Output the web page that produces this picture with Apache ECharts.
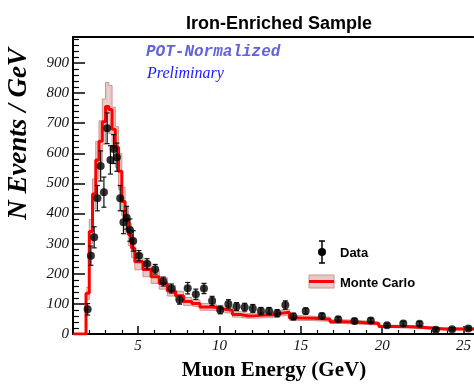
<!DOCTYPE html>
<html><head><meta charset="utf-8">
<script src="https://cdn.jsdelivr.net/npm/echarts@6/dist/echarts.min.js"></script>
<style>html,body{margin:0;padding:0;background:#fff}#c{width:474px;height:385px}</style>
</head><body><div id="c"></div>
<script>
// ---- data ----
const binEdges = [1.8,2.0,2.2,2.4,2.6,2.8,3.0,3.2,3.4,3.6,3.8,4.0,4.2,4.4,4.6,4.8,
  5.3,5.8,6.3,6.8,7.3,7.8,8.3,8.8,9.3,9.8,10.3,10.8,11.3,11.8,12.3,12.8,13.3,13.8,14.3,14.8,
  15.8,16.8,17.8,18.8,19.8,20.8,21.8,22.8,23.8,24.8,25.8];
const dataValues = [82,260,321,451,558,471,683,578,614,587,451,371,386,345,309,
  260,233,215,174,151,113,152,132,151,110,80,100,91,89,85,76,76,69,96,58,
  76,60,49,43,45,29,35,34,14,16,18];
const dataErr = [19,32,35,42,50,50,51,47,48,47,42,38,38,37,34,
  17,17,16,15,15,14,19,17,17,15,13,14,13,13,13,12,12,12,14,11,
  10,9,8,8,8,6,7,7,5,5,5];
const mcValues = [135,340,465,578,640,705,755,745,680,620,540,440,380,330,285,
  240,214,190,168,143,127,108,101,90,89,83,78,65,60,61,63,63,69,72,53,
  52,49,41,38,35,25,24,21,17,17,17];
const mcErr = [20,40,50,62,68,75,80,80,73,68,60,48,42,37,32,
  27,24,22,19,17,15,13,12,11,11,10,10,9,8,8,9,9,9,10,8,
  7,7,6,6,5,4,4,4,3,3,3];
const xTickLabels = [5,10,15,20,25];
const yTickLabels = [0,100,200,300,400,500,600,700,800,900];
const X_MIN = 1, X_MAX = 25.6, Y_MIN = 0, Y_MAX = 986;

// ---- derived ----
const xMinor = []; for (let v = 2; v <= 25; v++) if (v % 5) xMinor.push(v);
const yMinor = []; for (let v = 20; v < Y_MAX; v += 20) if (v % 100) yMinor.push(v);

const bandRects = [], bandTop = [], bandBot = [], mcLine = [[X_MIN, 0]], points = [], errs = [];
for (let i = 0; i < mcValues.length; i++) {
  const x0 = binEdges[i], x1 = binEdges[i + 1], c = (x0 + x1) / 2;
  bandRects.push([x0, x1, mcValues[i] - mcErr[i], mcValues[i] + mcErr[i]]);
  bandTop.push([x0, mcValues[i] + mcErr[i]], [x1, mcValues[i] + mcErr[i]]);
  bandBot.push([x0, mcValues[i] - mcErr[i]], [x1, mcValues[i] - mcErr[i]]);
  if (i === 0) mcLine.push([x0, 0]);
  mcLine.push([x0, mcValues[i]], [x1, mcValues[i]]);
  points.push([c, dataValues[i]]);
  errs.push([c, dataValues[i] - dataErr[i], dataValues[i] + dataErr[i]]);
}

const serif = 'Liberation Serif, DejaVu Serif, serif';
const sans = 'Liberation Sans, Arial, sans-serif';

const chart = echarts.init(document.getElementById('c'), null, {renderer: 'canvas'});
const baseX = {type: 'value', min: X_MIN, max: X_MAX, splitLine: {show: false}};
const baseY = {type: 'value', min: Y_MIN, max: Y_MAX, splitLine: {show: false}};
chart.setOption({
  animation: false,
  backgroundColor: '#fff',
  title: {
    text: 'Iron-Enriched Sample', left: 274, top: 10, textAlign: 'center',
    textStyle: {fontFamily: sans, fontWeight: 'bold', fontSize: 18, color: '#000'}
  },
  grid: {left: 73, right: 0, top: 37, bottom: 51, containLabel: false},
  xAxis: [
    Object.assign({}, baseX, {
      position: 'bottom',
      axisLine: {onZero: false, lineStyle: {color: '#000', width: 2}},
      axisTick: {inside: true, length: 8, customValues: xTickLabels, lineStyle: {color: '#000', width: 1.5}},
      axisLabel: {customValues: xTickLabels, fontFamily: serif, fontStyle: 'italic', fontSize: 15, color: '#111', margin: 5}
    }),
    Object.assign({}, baseX, {
      position: 'bottom',
      axisLine: {show: false, onZero: false},
      axisTick: {inside: true, length: 4, customValues: xMinor, lineStyle: {color: '#000', width: 1.2}},
      axisLabel: {show: false}
    }),
    Object.assign({}, baseX, {
      position: 'top',
      axisLine: {onZero: false, lineStyle: {color: '#000', width: 2}},
      axisTick: {show: false}, axisLabel: {show: false}
    })
  ],
  yAxis: [
    Object.assign({}, baseY, {
      position: 'left',
      axisLine: {onZero: false, lineStyle: {color: '#000', width: 2}},
      axisTick: {inside: true, length: 12, customValues: yTickLabels, lineStyle: {color: '#000', width: 1.5}},
      axisLabel: {customValues: yTickLabels, fontFamily: serif, fontStyle: 'italic', fontSize: 15, color: '#111', margin: 4}
    }),
    Object.assign({}, baseY, {
      position: 'left',
      axisLine: {show: false, onZero: false},
      axisTick: {inside: true, length: 6, customValues: yMinor, lineStyle: {color: '#000', width: 1.2}},
      axisLabel: {show: false}
    })
  ],
  graphic: [
    {type: 'text', x: 19, y: 134, rotation: Math.PI / 2,
      style: {text: 'N Events / GeV', font: 'italic bold 27px ' + serif, fill: '#000', textAlign: 'center', textVerticalAlign: 'middle'}},
    {type: 'text', x: 274, y: 371,
      style: {text: 'Muon Energy (GeV)', font: 'bold 21px ' + serif, fill: '#000', textAlign: 'center', textVerticalAlign: 'middle'}},
    {type: 'text', x: 146, y: 52,
      style: {text: 'POT-Normalized', font: 'italic bold 16px Liberation Mono, DejaVu Sans Mono, monospace', fill: '#6262dc', textAlign: 'left', textVerticalAlign: 'middle'}},
    {type: 'text', x: 147, y: 74,
      style: {text: 'Preliminary', font: 'italic 16px ' + serif, fill: '#1a1aff', textAlign: 'left', textVerticalAlign: 'middle'}},
    // legend: Data
    {type: 'line', shape: {x1: 322, y1: 241, x2: 322, y2: 263}, style: {stroke: '#000', lineWidth: 1.5}},
    {type: 'line', shape: {x1: 319, y1: 241, x2: 325, y2: 241}, style: {stroke: '#000', lineWidth: 1.5}},
    {type: 'line', shape: {x1: 319, y1: 263, x2: 325, y2: 263}, style: {stroke: '#000', lineWidth: 1.5}},
    {type: 'circle', shape: {cx: 322, cy: 252, r: 4}, style: {fill: '#000'}},
    {type: 'text', x: 340, y: 253, style: {text: 'Data', font: 'bold 13px ' + sans, fill: '#000', textVerticalAlign: 'middle'}},
    // legend: Monte Carlo
    {type: 'rect', shape: {x: 309, y: 275, width: 25, height: 13}, style: {fill: '#e9c9c5', stroke: '#c99590', lineWidth: 1}},
    {type: 'line', shape: {x1: 309, y1: 281.5, x2: 334, y2: 281.5}, style: {stroke: '#ff0000', lineWidth: 3}},
    {type: 'text', x: 340, y: 283, style: {text: 'Monte Carlo', font: 'bold 13px ' + sans, fill: '#000', textVerticalAlign: 'middle'}}
  ],
  series: [
    {
      type: 'custom', name: 'MC band', clip: true, z: 1,
      encode: {x: [0, 1], y: [2, 3]},
      data: bandRects,
      renderItem: function (params, api) {
        const p0 = api.coord([api.value(0), api.value(3)]);
        const p1 = api.coord([api.value(1), api.value(2)]);
        return {type: 'rect', shape: {x: p0[0], y: p0[1], width: p1[0] - p0[0], height: p1[1] - p0[1]},
          style: {fill: '#e9c9c5'}};
      }
    },
    {type: 'line', data: bandTop, showSymbol: false, z: 2, lineStyle: {color: '#c99590', width: 1}, silent: true},
    {type: 'line', data: bandBot, showSymbol: false, z: 2, lineStyle: {color: '#c99590', width: 1}, silent: true},
    {type: 'line', name: 'Monte Carlo', data: mcLine, showSymbol: false, z: 3, lineStyle: {color: '#ff0000', width: 3}, silent: true},
    {
      type: 'custom', name: 'Data errors', z: 4,
      encode: {x: 0, y: [1, 2]},
      data: errs,
      renderItem: function (params, api) {
        const a = api.coord([api.value(0), api.value(2)]);
        const b = api.coord([api.value(0), api.value(1)]);
        const w = 2.5, st = {stroke: '#111', lineWidth: 1.2};
        return {type: 'group', children: [
          {type: 'line', shape: {x1: a[0], y1: a[1], x2: b[0], y2: b[1]}, style: st},
          {type: 'line', shape: {x1: a[0] - w, y1: a[1], x2: a[0] + w, y2: a[1]}, style: st},
          {type: 'line', shape: {x1: b[0] - w, y1: b[1], x2: b[0] + w, y2: b[1]}, style: st}
        ]};
      }
    },
    {type: 'scatter', name: 'Data', data: points, symbol: 'circle', symbolSize: 8, z: 5,
      itemStyle: {color: '#000'}}
  ]
});
</script></body></html>
